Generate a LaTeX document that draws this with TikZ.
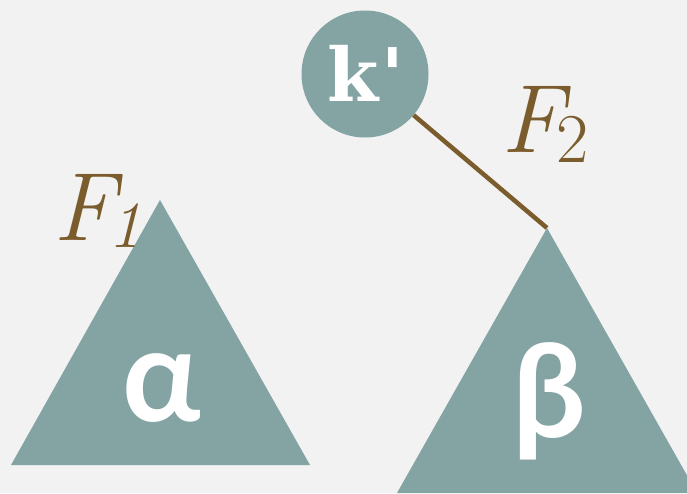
\documentclass[tikz,border=0pt]{standalone}
\usepackage{fontspec}
\newfontfamily\greekfont{Lato}
\newfontfamily\kfont{DejaVu Serif}
\definecolor{bg}{HTML}{F2F2F2}
\definecolor{teal}{HTML}{84A3A3}
\definecolor{brownline}{HTML}{7B5C2C}
\begin{document}
\begin{tikzpicture}[x=1pt,y=-1pt,
  tri/.style={fill=teal},
  bigletter/.style={inner sep=0pt,text=white,font=\greekfont\bfseries\fontsize{130}{130}\selectfont},
  flabel/.style={inner sep=0pt,anchor=base west,text=brownline,font=\fontsize{97}{97}\selectfont},
  conn/.style={draw=brownline,line width=4.5pt}]
\fill[bg] (0,0) rectangle (687,493);
\useasboundingbox (0,0) rectangle (687,493);
% coordinates of triangles
\coordinate (a-apex) at (160,200);
\coordinate (a-left) at (11,465);
\coordinate (a-right) at (310,465);
\coordinate (b-apex) at (547,228);
\coordinate (b-left) at (397,493);
\coordinate (b-right) at (697,493);
% circle
\node[circle,fill=teal,minimum size=127pt,inner sep=0pt] (k) at (365,74) {};
\node[inner sep=0pt,text=white,font=\kfont\bfseries\fontsize{74}{74}\selectfont] (ktext) at (366,73) {k\kern3pt'};
% connector
\draw[conn] (k) -- (b-apex);
% triangles
\fill[tri] (a-apex) -- (a-right) -- (a-left) -- cycle;
\fill[tri] (b-apex) -- (b-right) -- (b-left) -- cycle;
% letters
\node[bigletter] (alpha) at (162,388) {α};
\node[bigletter] (beta) at (549,401) {β};
% labels
\node[flabel] (f1) at (53,240) {\itshape F\kern-7pt\raisebox{-7pt}{\fontsize{66}{66}\selectfont 1}};
\node[flabel] (f2) at (501,152) {\itshape F\kern-7pt\raisebox{-10pt}{\fontsize{70}{70}\selectfont\upshape 2}};
\end{tikzpicture}
\end{document}
